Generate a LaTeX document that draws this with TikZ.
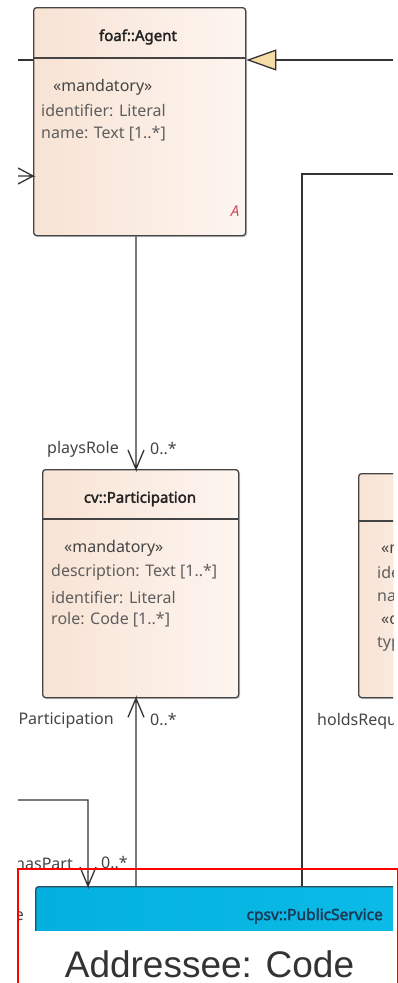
\documentclass[tikz,border=0pt]{standalone}
\usepackage{fontspec}
\setmainfont{Noto Sans}[AutoFakeBold=2.2]
\newfontfamily\arialfont{Liberation Sans}
\usetikzlibrary{arrows.meta,shadows}
\definecolor{linec}{HTML}{333333}
\definecolor{boxborder}{HTML}{444444}
\definecolor{peachL}{HTML}{F8E3D4}
\definecolor{peachR}{HTML}{FDF5F0}
\definecolor{attrc}{HTML}{5E5E5E}
\definecolor{stereoc}{HTML}{444444}
\definecolor{titlec}{HTML}{222222}
\definecolor{lblc}{HTML}{444444}
\definecolor{genfill}{HTML}{F5DCA6}
\definecolor{cyanL}{HTML}{03B0DF}
\definecolor{cyanR}{HTML}{0DBCE9}
\definecolor{psborder}{HTML}{2F4D5E}
\definecolor{pstitle}{HTML}{1C3A55}
\definecolor{abstc}{HTML}{D04A5E}
\definecolor{bigtext}{HTML}{333333}
\tikzset{
  umlbox/.style={draw=boxborder, line width=1.3pt, rounded corners=3pt,
    left color=peachL, right color=peachR, inner sep=0pt, anchor=north west,
    drop shadow={shadow xshift=1.5pt, shadow yshift=-1.5pt, opacity=0.35, fill=gray}},
  psbox/.style={draw=psborder, line width=1.3pt, rounded corners=3pt,
    left color=cyanL, right color=cyanR, inner sep=0pt, anchor=north west},
  divline/.style={draw=boxborder, line width=1.1pt},
  attr/.style={anchor=west, inner sep=0pt, font=\fontsize{16}{18}\selectfont, text=attrc},
  stereo/.style={attr, text=stereoc},
  lbl/.style={attr, text=lblc},
  umltitle/.style={inner sep=0pt, font=\fontsize{15}{18}\selectfont\bfseries, text=titlec},
  assoc/.style={draw=linec, line width=1.3pt, line join=miter},
  gen/.style={assoc, -{Triangle[length=30pt,width=21pt,fill=genfill]}},
}
\begin{document}
\begin{tikzpicture}[x=1pt,y=-1pt]
\useasboundingbox (0,0) rectangle (398,983);
\fill[white] (0,0) rectangle (398,983);
\begin{scope}
\clip (18,0) rectangle (393,983);
% boxes
\node[umlbox, minimum width=212pt, minimum height=228pt] (agent) at (33,7) {};
\node[umlbox, minimum width=196pt, minimum height=228pt] (part) at (42,469) {};
\node[umlbox, minimum width=100pt, minimum height=224pt] (req) at (358,473) {};
\node[psbox, minimum width=420pt, minimum height=100pt] (ps) at (35,886) {};
% dividers
\draw[divline] (33,58) -- (245,58);
\draw[divline] (42,519) -- (238,519);
\draw[divline] (358,521) -- (400,521);
% texts agent
\node[umltitle] (agt) at (138,37) {foaf::Agent};
\node[stereo] (ag1) at (53,87) {«mandatory»};
\node[attr] (ag2) at (41,110) {identifier: Literal};
\node[attr] (ag3) at (41,134) {name: Text [1..*]};
\node[inner sep=0pt, text=abstc, font=\fontsize{15}{16}\selectfont\itshape] (agA) at (235,211) {A};
% texts participation
\node[umltitle] (pt) at (140,499) {cv::Participation};
\node[stereo] (p1) at (64,548) {«mandatory»};
\node[attr] (p2) at (51,572) {description: Text [1..*]};
\node[attr] (p3) at (51,597) {identifier: Literal};
\node[attr] (p4) at (51,620) {role: Code [1..*]};
% texts requirement (clipped by the picture edge)
\node[stereo] (r1) at (381,549) {«mandatory»};
\node[attr] (r2) at (377,572) {identifier: Literal};
\node[attr] (r3) at (377,597) {name: Text [1..*]};
\node[stereo] (r4) at (381,620) {«optional»};
\node[attr] (r5) at (377,643) {type: Code};
% public service title
\node[inner sep=0pt, anchor=east, text=pstitle, font=\fontsize{15.5}{17}\selectfont\bfseries] (pst) at (383,916) {cpsv::PublicService};
% connectors
\coordinate (genEnd) at (393,60);
\draw[gen] (genEnd) -- (agent.east |- genEnd);
\coordinate (lnL) at (18,60);
\draw[assoc] (lnL) -- (agent.west |- lnL);
\coordinate (barbL) at (18,176);
\draw[assoc] (barbL) -- (agent.west |- barbL) -- ++(-15,-8) (agent.west |- barbL) -- ++(-15,8);
\coordinate (x136) at (136,0);
\draw[assoc] (agent.south -| x136) -- (part.north -| x136) -- ++(-8,-19) (part.north -| x136) -- ++(8,-19);
\draw[assoc] (ps.north -| x136) -- (part.south -| x136) -- ++(-8,19) (part.south -| x136) -- ++(8,19);
\coordinate (hp) at (18,800);
\coordinate (x88) at (88,0);
\draw[assoc] (hp) -| (ps.north -| x88) -- ++(-8,-19) (ps.north -| x88) -- ++(8,-19);
\coordinate (rt) at (393,174);
\coordinate (x302) at (302,0);
\draw[assoc] (rt) -| (ps.north -| x302);
% labels
\node[lbl, anchor=east] (l1) at (119,449) {playsRole};
\node[lbl] (m1) at (150,449) {0..*};
\node[lbl, anchor=east] (l2) at (114,720) {hasParticipation};
\node[lbl] (m2) at (150,720) {0..*};
\node[lbl, anchor=east] (l3) at (73,863) {hasPart};
\node[lbl] (m3) at (101,863) {0..*};
\node[lbl] (l4) at (317,721) {holdsRequirement};
\node[lbl, anchor=east] (l5) at (24,916) {e};
\end{scope}
% overlay
\fill[white] (19,931) rectangle (396.5,983);
\node[inner sep=0pt, text=bigtext, font=\arialfont\fontsize{37}{40}\selectfont] (addr) at (209.5,964) {Addressee: Code};
\draw[red, line width=1.5pt] (18,990) |- (397.5,869) -- (397.5,990);
\end{tikzpicture}
\end{document}
